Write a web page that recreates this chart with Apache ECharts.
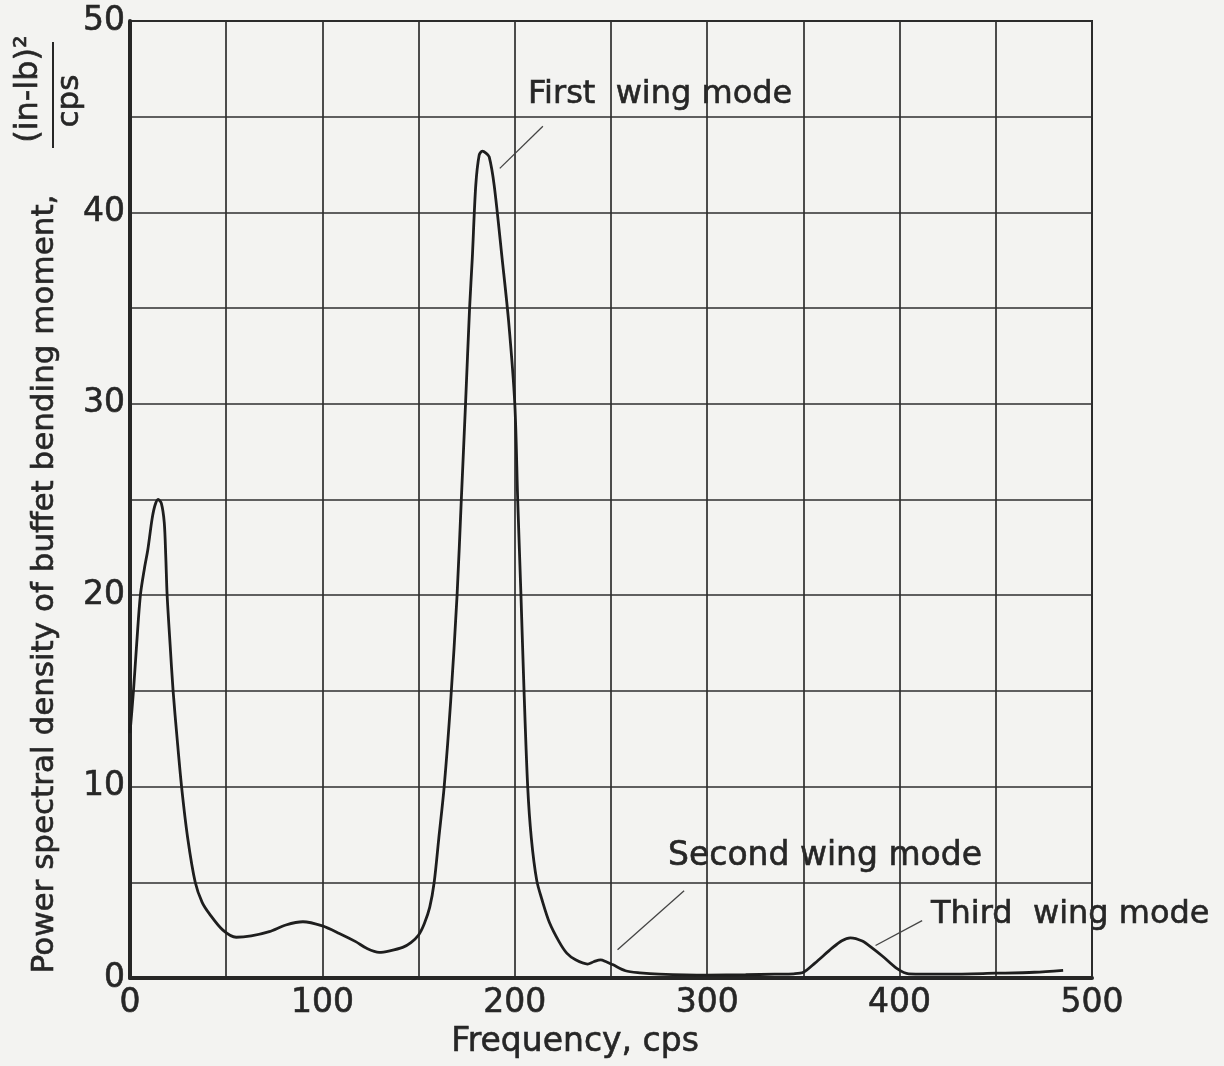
<!DOCTYPE html>
<html>
<head>
<meta charset="utf-8">
<script src="https://cdn.jsdelivr.net/npm/echarts@6/dist/echarts.min.js"></script>
<style>
html,body{margin:0;padding:0;background:#f3f3f1;}
#chart{width:1224px;height:1066px;}
</style>
</head>
<body>
<div id="chart"></div>
<script>
// ---- data ----
const frequency = [0,1.8,3.5,5.4,7.5,9.3,11.5,13,14.6,16.3,17.8,18.6,19.3,20.8,22.4,24.5,26.8,30,33.9,37.5,41.3,48.3,55.2,63,72.4,81,89.9,100,108.8,117.3,123,129.5,135,141.7,146,150,153,155.8,158.1,160.5,163.3,166.7,170,172.2,174.4,176.5,177.9,179.7,181.5,183.1,185,186.7,189.3,193.4,196.8,200,201.5,203.2,204.8,206.7,208.6,211.4,214.1,218,223,227,231.6,237.8,241,244.6,247.5,250.8,257.5,265,275,300,320,335,345,350,356,365,370,374.4,380.6,386,391,398.7,404.8,425,450,470,485];
const psd = [12.8,15,17.5,20,21.4,22.4,24,24.7,25,24.8,23.8,22,20,17.5,15,12.5,10,7.3,5,3.95,3.35,2.5,2.13,2.2,2.42,2.77,2.94,2.72,2.33,1.9,1.55,1.34,1.42,1.6,1.85,2.25,2.85,3.7,5,7.3,10,14.5,20,25,30,35,37.6,41.4,43,43.2,43.1,42.9,41.4,37.6,34.3,30,25,20,15,10,7.3,5.1,4.1,2.9,1.9,1.3,0.95,0.73,0.85,0.95,0.85,0.7,0.38,0.27,0.2,0.15,0.17,0.2,0.22,0.3,0.78,1.57,1.95,2.1,1.93,1.55,1.15,0.49,0.22,0.2,0.25,0.3,0.4];
const xTickLabels = [0,100,200,300,400,500];
const yTickLabels = [0,10,20,30,40,50];
const annotationTexts = ['First  wing mode','Second wing mode','Third  wing mode'];
// leader lines in data units
const leaderFrom = [[214.6,44.5],[288,4.56],[411.7,3.0]];
const leaderTo   = [[192.2,42.3],[253.4,1.48],[387.5,1.7]];
const xTitle = 'Frequency, cps';
const yTitle = 'Power spectral density of buffet bending moment,';
const yUnitNum = '(in-lb)\u00b2';
const yUnitDen = 'cps';

const ink = '#262626';
const font = '"DejaVu Sans", "Noto Sans", sans-serif';
const sw = 0.6; // slight text thickening, like the inked lettering

const chart = echarts.init(document.getElementById('chart'), null, {renderer:'canvas'});
const pts = frequency.map((f,i)=>[f, psd[i]]);

function txt(x, y, text, size, align, rot) {
  const o = {type:'text', x:x, y:y, style:{text:text, font:size+'px '+font, fill:ink, stroke:ink, lineWidth:sw, textVerticalAlign:'middle', textAlign:align}};
  if (rot) o.rotation = rot;
  return o;
}

const option = {
  backgroundColor: '#f3f3f1',
  animation: false,
  grid: {left:130, top:21, right:132, bottom:88, show:true, borderColor:ink, borderWidth:2, backgroundColor:'transparent'},
  xAxis: {
    type:'value', min:0, max:500, interval:50,
    axisLine:{show:true, onZero:false, lineStyle:{color:ink, width:4}},
    axisTick:{show:false},
    splitLine:{show:true, lineStyle:{color:'#2e2e2e', width:1.7}},
    axisLabel:{
      margin:9, color:ink, fontSize:33, fontFamily:font, textBorderColor:ink, textBorderWidth:sw,
      formatter: v => xTickLabels.indexOf(v) >= 0 ? String(v) : ''
    }
  },
  yAxis: {
    type:'value', min:0, max:50, interval:5,
    axisLine:{show:true, onZero:false, lineStyle:{color:ink, width:4}},
    axisTick:{show:false},
    splitLine:{show:true, lineStyle:{color:'#2e2e2e', width:1.7}},
    axisLabel:{
      margin:5, color:ink, fontSize:33, fontFamily:font, textBorderColor:ink, textBorderWidth:sw,
      formatter: v => yTickLabels.indexOf(v) >= 0 ? String(v) : ''
    }
  },
  series: [
    {
      type:'line', data:pts, showSymbol:false, smooth:0.3,
      lineStyle:{color:'#1e1e1e', width:2.8}, z:5,
      markLine:{
        silent:true, symbol:['none','none'], label:{show:false},
        lineStyle:{color:'#444', width:1.3, type:'solid'},
        data: leaderFrom.map((p,i)=>[{coord:p},{coord:leaderTo[i]}])
      }
    }
  ],
  graphic: [
    txt(528, 95, annotationTexts[0], 32, 'left'),
    txt(668, 856, annotationTexts[1], 33, 'left'),
    txt(931, 915, annotationTexts[2], 32, 'left'),
    txt(575, 1042, xTitle, 33, 'center'),
    txt(45, 584, yTitle, 31, 'center', Math.PI/2),
    txt(29, 89, yUnitNum, 32, 'center', Math.PI/2),
    txt(70, 101, yUnitDen, 31, 'center', Math.PI/2),
    {type:'line', shape:{x1:53, y1:42, x2:53, y2:148}, style:{stroke:ink, lineWidth:2}}
  ]
};
chart.setOption(option);
</script>
</body>
</html>
